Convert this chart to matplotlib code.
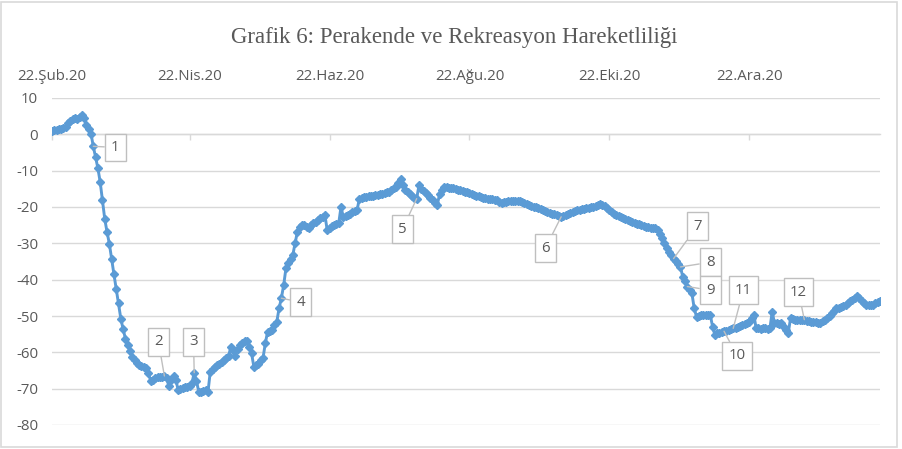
import matplotlib
matplotlib.use("Agg")
import matplotlib.pyplot as plt
import pandas as pd
from matplotlib.patches import Rectangle

# ---------------- data (daily index values, 22 Feb 2020 onwards) ----------------
start_date = "2020-02-22"
feb20 = [0.9, 1.1, 1.3, 1.5, 1.6, 1.8, 2.0, 3.0]
mar20 = [3.8, 4.2, 4.4, 4.3, 4.8, 5.2, 4.6, 2.6, 1.5, 0.2, -3.3, -6.3, -9.3, -13.1,
         -18.1, -23.3, -26.9, -30.1, -34.4, -38.5, -42.6, -46.5, -50.7, -53.6, -56.2,
         -58.0, -59.6, -61.2, -62.2, -62.8, -63.4]
apr20 = [-63.8, -64.0, -64.3, -65.7, -67.8, -67.5, -67.0, -66.9, -66.8, -66.7, -66.5,
         -67.2, -69.4, -67.5, -66.5, -67.6, -70.3, -70.0, -69.8, -69.6, -69.5, -69.4,
         -68.5, -65.6, -68.0, -70.8, -70.8, -70.6, -70.3, -71.0]
may20 = [-65.3, -64.5, -64.0, -63.6, -63.2, -62.6, -62.0, -61.5, -61.0, -58.4, -59.3,
         -61.0, -59.0, -58.0, -57.5, -57.0, -56.8, -58.4, -60.3, -63.9, -63.5, -63.2,
         -62.0, -61.6, -57.5, -54.3, -54.0, -53.8, -52.5, -51.6, -47.9]
jun20 = [-45.1, -41.5, -36.9, -35.5, -34.2, -33.2, -29.9, -26.8, -25.5, -25.0, -25.0,
         -25.5, -25.9, -25.0, -24.5, -24.0, -23.5, -23.0, -22.7, -22.3, -26.4, -25.8,
         -25.3, -25.0, -24.8, -24.5, -20.0, -22.7, -22.4, -22.1]
jul20 = [-21.8, -21.5, -21.2, -20.9, -17.7, -17.5, -17.3, -17.2, -17.1, -17.0, -16.9,
         -16.8, -16.6, -16.4, -16.3, -16.1, -15.9, -15.8, -15.4, -14.9, -14.5, -13.5,
         -12.4, -14.0, -15.2, -16.0, -16.5, -17.0, -17.4, -17.7, -14.0]
aug20 = [-15.0, -15.6, -16.2, -16.8, -17.4, -18.1, -18.8, -19.5, -16.3, -15.2, -14.5,
         -14.6, -14.7, -14.8, -14.9, -15.0, -15.2, -15.4, -15.6, -15.8, -16.0, -16.2,
         -16.5, -16.7, -16.9, -17.1, -17.2, -17.4, -17.5, -17.7, -17.8]
sep20 = [-17.9, -18.0, -18.1, -18.6, -18.9, -18.7, -18.5, -18.4, -18.4, -18.3, -18.3,
         -18.3, -18.3, -18.5, -18.8, -19.1, -19.5, -19.7, -19.9, -20.0, -20.3, -20.6,
         -20.9, -21.2, -21.4, -21.6, -21.8, -22.0, -22.3, -22.5]
oct20 = [-22.7, -22.6, -22.3, -21.9, -21.6, -21.3, -21.0, -20.8, -20.7, -20.6, -20.5,
         -20.4, -20.3, -20.1, -20.0, -19.7, -19.4, -19.2, -19.4, -19.7, -20.2, -20.8,
         -21.5, -22.0, -22.3, -22.4, -22.7, -23.0, -23.3, -23.6, -23.9]
nov20 = [-24.1, -24.4, -24.6, -24.8, -25.0, -25.2, -25.5, -25.6, -25.7, -25.8, -25.9,
         -26.4, -27.3, -28.6, -30.0, -31.2, -32.3, -33.3, -34.2, -35.0, -35.8, -36.5,
         -39.2, -40.5, -41.9, -42.8, -43.8, -47.9, -50.2, -49.9]
dec20 = [-49.8, -49.7, -49.7, -49.8, -49.7, -52.9, -55.2, -54.8, -54.6, -54.4, -54.2,
         -54.0, -53.8, -53.6, -53.4, -53.3, -53.0, -52.8, -52.5, -52.3, -52.0, -51.6,
         -50.6, -49.7, -53.4, -53.4, -53.5, -53.4, -53.4, -53.5, -53.4]
jan21 = [-48.8, -52.0, -52.0, -52.1, -52.0, -52.9, -53.8, -54.7, -50.6, -50.8, -51.0,
         -51.1, -51.1, -51.2, -51.0, -51.3, -51.5, -51.6, -51.6, -51.7, -51.8, -51.9,
         -51.5, -51.0, -50.6, -49.9, -49.2, -48.6, -47.9, -47.7, -47.5]
feb21 = [-47.2, -47.0, -46.5, -46.0, -45.5, -45.0, -44.5, -45.1, -45.8, -46.5, -47.0,
         -47.0, -47.0, -46.9, -46.5, -46.1, -45.8]

values = (feb20 + mar20 + apr20 + may20 + jun20 + jul20 + aug20 + sep20 + oct20
          + nov20 + dec20 + jan21 + feb21)
dates = pd.date_range(start_date, periods=len(values), freq="D")

title = "Grafik 6: Perakende ve Rekreasyon Hareketliliği"
tick_dates = ["2020-02-22", "2020-04-22", "2020-06-22", "2020-08-22", "2020-10-22", "2020-12-22"]
tick_labels = ["22.Şub.20", "22.Nis.20", "22.Haz.20", "22.Ağu.20", "22.Eki.20", "22.Ara.20"]
y_ticks = [10, 0, -10, -20, -30, -40, -50, -60, -70, -80]

# numbered callouts: the day they point at
callout_texts = ["1", "2", "3", "4", "5", "6", "7", "8", "9", "10", "11", "12"]
callout_dates = ["2020-03-11", "2020-04-11", "2020-04-24", "2020-06-01", "2020-07-30",
                 "2020-10-01", "2020-11-19", "2020-11-22", "2020-11-25", "2020-12-11",
                 "2020-12-15", "2021-01-15"]
# layout: where each callout box sits (date, value)
callout_box = [("2020-03-20 14:00", -3.6), ("2020-04-08 10:00", -57.1),
               ("2020-04-23 17:00", -57.1), ("2020-06-09 10:00", -46.2),
               ("2020-07-23 19:00", -26.1), ("2020-09-24 03:00", -31.3),
               ("2020-11-29 07:00", -25.3), ("2020-12-05", -35.2),
               ("2020-12-05", -42.9), ("2020-12-16 19:00", -61.0),
               ("2020-12-19 10:00", -42.9), ("2021-01-12 12:00", -43.4)]

# ---------------- styling ----------------
W, H = 902, 449
LINE = "#5B9BD5"
GRID = "#d9d9d9"
TXT = "#595959"
FONT = "Open Sans"

fig = plt.figure(figsize=(W / 100, H / 100), dpi=100)
ax = fig.add_axes([52 / W, 1 - 425 / H, (880 - 52) / W, (425 - 98) / H])

ax.plot(dates, values, color=LINE, lw=2.1, marker="D", ms=3.6,
        mfc=LINE, mec=LINE, zorder=3, solid_joinstyle="round")

ax.set_xlim(dates[0], dates[-1])
ax.set_ylim(-80, 10)
ax.set_yticks(y_ticks)
ax.set_yticklabels([str(v) for v in y_ticks])
ax.yaxis.grid(True, color=GRID, lw=1.0)
ax.set_axisbelow(True)

for s in ["left", "right", "top"]:
    ax.spines[s].set_visible(False)
ax.spines["bottom"].set_position(("data", 0))
ax.spines["bottom"].set_color(GRID)
ax.spines["bottom"].set_linewidth(1.0)

ax.set_xticks(pd.to_datetime(tick_dates))
ax.set_xticklabels(tick_labels)
ax.tick_params(axis="x", direction="out", length=4, width=1, color=GRID,
               bottom=True, top=False, labelbottom=False, labeltop=True,
               pad=6, labelsize=10.8, labelcolor=TXT)
ax.tick_params(axis="y", length=0, pad=10, labelsize=10.8, labelcolor=TXT)
for lab in ax.get_xticklabels() + ax.get_yticklabels():
    lab.set_fontfamily(FONT)

start = pd.Timestamp(start_date)
for txt, d, (bx, by) in zip(callout_texts, callout_dates, callout_box):
    idx = (pd.Timestamp(d) - start).days
    ax.annotate(txt, xy=(dates[idx], values[idx]), xytext=(pd.Timestamp(bx), by),
                textcoords="data", ha="center", va="center", fontsize=10.8,
                fontfamily=FONT, color=TXT, zorder=5, annotation_clip=False,
                bbox=dict(boxstyle="square,pad=0.42", fc="white", ec="#bfbfbf", lw=1),
                arrowprops=dict(arrowstyle="-", color="#bfbfbf", lw=1,
                                shrinkA=0, shrinkB=0))

fig.text(454 / W, 1 - 37 / H, title, ha="center", va="center",
         fontfamily="Liberation Serif", fontsize=16.5, color=TXT)

fig.add_artist(Rectangle((1 / W, 2 / H), 896 / W, 445 / H, transform=fig.transFigure,
                         fill=False, ec=GRID, lw=1.2))

fig.savefig("out.png", dpi=100)
